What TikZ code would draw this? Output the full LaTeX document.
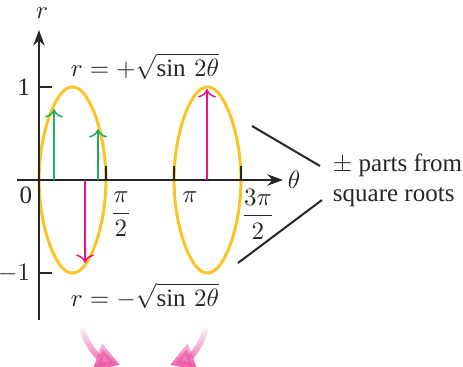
\documentclass[tikz,border=0pt]{standalone}
\usepackage{fontspec}
\setmainfont{Liberation Serif}
\usetikzlibrary{arrows.meta,positioning,calc,fadings}
\definecolor{curvegold}{RGB}{250,196,34}
\definecolor{rootgreen}{RGB}{30,170,95}
\definecolor{rootpink}{RGB}{230,20,130}
\begin{document}
\begin{tikzpicture}[
    x=0.4pt, y=-0.4pt,
    axis/.style={-{Stealth[length=2.2mm, width=1.6mm]}, line width=0.8pt, black!85},
    tick/.style={line width=0.8pt, black!85},
    curve/.style={line width=1.2pt, curvegold, domain=0:90, samples=181, smooth},
    posarrow/.style={-{To[length=1.2mm]}, line width=0.6pt, rootgreen},
    negarrow/.style={-{To[length=1.2mm]}, line width=0.6pt, rootpink},
    pointer/.style={line width=0.8pt, black!85},
    lbl/.style={font=\normalsize, text=black!85, inner sep=1pt},
    turn/.style={-{Triangle[length=3.4mm, width=3.8mm]}, line width=2.4pt, rootpink!70, path fading=north},
]
\useasboundingbox (0,0) rectangle (463,367);

% ====== Curves r = +/- sqrt(sin 2theta) ======
\draw[curve] plot ({39+67*\x/90}, {180-93*sqrt(abs(sin(2*\x)))})
    -- plot[domain=90:0] ({39+67*\x/90}, {180+93*sqrt(abs(sin(2*\x)))});
\draw[curve] plot ({174+67*\x/90}, {180-93*sqrt(abs(sin(2*\x)))})
    -- plot[domain=90:0] ({174+67*\x/90}, {180+93*sqrt(abs(sin(2*\x)))});

% ====== Axes ======
\coordinate (tStart) at (17,180);
\coordinate (tEnd) at (283,180);
\coordinate (rStart) at (39,320);
\coordinate (rEnd) at (39,30);
\draw[axis] (tStart) -- (tEnd);
\draw[axis] (rStart) -- (rEnd);
\node[lbl] (rName) at (42,13) {$r$};
\node[lbl] (tName) at (294,180) {$\theta$};

% ====== Ticks ======
\coordinate (one) at (39,87);
\coordinate (mone) at (39,273);
\draw[tick] (one) -- ++(13,0);
\draw[tick] (mone) -- ++(13,0);
\node[lbl, anchor=east] (oneLbl) at (33,87) {1};
\node[lbl, anchor=east] (moneLbl) at (33,273) {$-1$};
\node[lbl] (zeroLbl) at (26,195) {0};
\coordinate (halfPi) at (106,180);
\coordinate (fullPi) at (174,180);
\coordinate (threeHalfPi) at (241,180);
\foreach \c in {halfPi, fullPi, threeHalfPi}
    \draw[tick] (\c) -- ++(0,-14);
\node[lbl] (halfPiLbl) at (121,214) {$\displaystyle\frac{\pi}{2}$};
\node[lbl] (fullPiLbl) at (190,197) {$\pi$};
\node[lbl] (threeHalfPiLbl) at (258,214) {$\displaystyle\frac{3\pi}{2}$};

% ====== Sample radii ======
\coordinate (gA) at (54,180);  \coordinate (gAtip) at (54,109);
\coordinate (gB) at (98,180);  \coordinate (gBtip) at (98,129);
\coordinate (pA) at (85,180);  \coordinate (pAtip) at (85,263);
\coordinate (pB) at (207,180); \coordinate (pBtip) at (207,89);
\draw[posarrow] (gA) -- (gAtip);
\draw[posarrow] (gB) -- (gBtip);
\draw[negarrow] (pA) -- (pAtip);
\draw[negarrow] (pB) -- (pBtip);

% ====== Curve labels ======
\node[lbl] (upperEq) at (145,66) {$r = +\sqrt{\sin\,2\theta}$};
\node[lbl] (lowerEq) at (145,296) {$r = -\sqrt{\sin\,2\theta}$};

% ====== Note on the +/- parts ======
\node[lbl, anchor=west, align=left] (note) at (330,180) {$\pm$ parts from\\square roots};
\coordinate (upFrom) at (252,126);
\coordinate (upTo) at (320,166);
\coordinate (lowFrom) at (238,263);
\coordinate (lowTo) at (322,200);
\draw[pointer] (upFrom) -- (upTo);
\draw[pointer] (lowFrom) -- (lowTo);

% ====== Turn arrows ======
\coordinate (turnL) at (82,328);
\coordinate (turnLtip) at (120,365);
\coordinate (turnR) at (206,328);
\coordinate (turnRtip) at (170,365);
\draw[turn] (turnL) .. controls (87,347) and (100,358) .. (turnLtip);
\draw[turn] (turnR) .. controls (201,347) and (189,358) .. (turnRtip);

\end{tikzpicture}
\end{document}
